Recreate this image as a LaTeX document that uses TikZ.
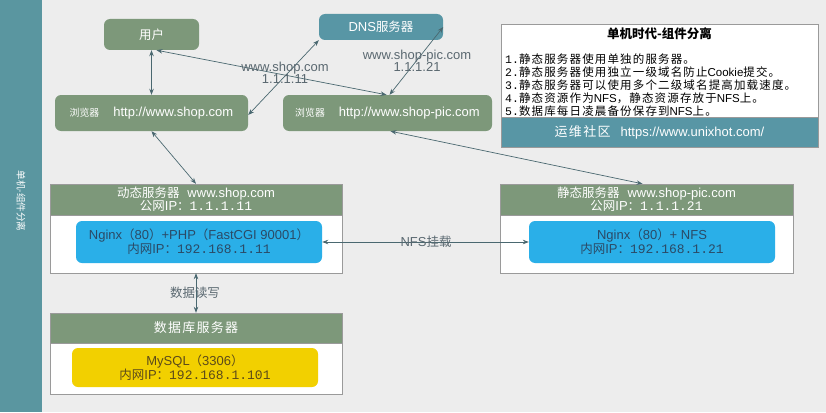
\documentclass[tikz,border=0pt]{standalone}
\usepackage{fontspec}
\setmainfont{Liberation Sans}
\setmonofont{Liberation Mono}
\newfontfamily\cjk[Scale=0.96]{Noto Sans CJK SC}
\newfontfamily\cjks[Scale=0.76]{Noto Sans CJK SC}
\newfontfamily\cjkl[LetterSpace=10]{Noto Sans CJK SC}
\usetikzlibrary{arrows.meta}
\definecolor{bg}{HTML}{EDEDED}
\definecolor{barteal}{HTML}{5A96A0}
\definecolor{gbox}{HTML}{7D987A}
\definecolor{tbox}{HTML}{5896A5}
\definecolor{bbox}{HTML}{2AAFE8}
\definecolor{ybox}{HTML}{F2D000}
\definecolor{arr}{HTML}{4A6870}
\definecolor{lbl}{HTML}{5A6870}
\definecolor{frame}{HTML}{9A9A9A}
\definecolor{bluetext}{HTML}{2B4A66}
\definecolor{yeltext}{HTML}{5B4A1A}
\tikzset{
  greenbox/.style={fill=gbox, rounded corners=6pt, text=white, font=\fontsize{13}{14}\selectfont, inner sep=0pt},
  header/.style={fill=gbox, draw=frame, text=white, align=center, font=\fontsize{13}{13}\selectfont, inner sep=0pt},
  body/.style={fill=white, draw=frame, inner sep=0pt},
  bluebox/.style={fill=bbox, rounded corners=6pt, text=bluetext, align=center, font=\fontsize{13}{14}\selectfont, inner sep=0pt},
  yelbox/.style={fill=ybox, rounded corners=6pt, text=yeltext, align=center, font=\fontsize{13}{13.5}\selectfont, inner sep=0pt},
  link/.style={draw=arr, line width=0.7pt, {Stealth[length=6pt,width=4.5pt]}-{Stealth[length=6pt,width=4.5pt]}},
  lab/.style={text=lbl, align=center, font=\fontsize{13}{12}\selectfont, inner sep=0pt}
}
\begin{document}
\begin{tikzpicture}[x=1pt,y=-1pt]
\fill[bg] (0,0) rectangle (826,412);
\useasboundingbox (0,0) rectangle (826,412);
\fill[barteal] (0,0) rectangle (42,412);
\node[rotate=-90, text=white, font=\cjk\fontsize{10}{10}\selectfont] (side) at (21,201) {单机-组件分离};

% top boxes
\node[greenbox, minimum width=95pt, minimum height=31pt] (user) at (151.5,34.5) {\cjk 用户};
\node[greenbox, fill=tbox, minimum width=124pt, minimum height=26pt] (dns) at (381,27) {DNS{\cjk 服务器}};
\node[greenbox, minimum width=193pt, minimum height=36pt] (b1) at (151.5,113) {{\cjks 浏览器}\hspace{14pt}http://www.shop.com};
\node[greenbox, minimum width=209pt, minimum height=36pt] (b2) at (387.5,113) {{\cjks 浏览器}\hspace{14pt}http://www.shop-pic.com};

% info box
\node[body, minimum width=317pt, minimum height=123pt] (info) at (659.5,85.5) {};
\node[fill=tbox, draw=frame, minimum width=317pt, minimum height=30pt, inner sep=0pt, text=white, font=\fontsize{13}{14}\selectfont] (band) at (659.5,132.5) {{\cjkl 运维社区}\hspace{10pt}https://www.unixhot.com/};
\node[font=\cjk\bfseries\fontsize{13}{14}\selectfont, inner sep=0pt] (title) at (659.5,34) {单机时代-组件分离};
\node[anchor=north west, align=left, inner sep=0pt, font=\fontsize{11.5}{13}\selectfont] (rules) at (505,54)
{{\ttfamily 1.}{\cjkl 静态服务器使用单独的服务器。}\\
{\ttfamily 2.}{\cjkl 静态服务器使用独立一级域名防止}Cookie{\cjkl 提交。}\\
{\ttfamily 3.}{\cjkl 静态服务器可以使用多个二级域名提高加载速度。}\\
{\ttfamily 4.}{\cjkl 静态资源作为}NFS{\cjkl ，静态资源存放于}NFS{\cjkl 上。}\\
{\ttfamily 5.}{\cjkl 数据库每日凌晨备份保存到}NFS{\cjkl 上。}};

% dynamic server
\node[body, minimum width=292pt, minimum height=89pt] (dyn) at (196,228.5) {};
\node[header, minimum width=292pt, minimum height=31pt] (dynh) at (196,199.5) {{\cjk 动态服务器}\hspace{8pt}www.shop.com\\{\cjk 公网}IP{\cjk ：}{\ttfamily 1.1.1.11}};
\node[bluebox, minimum width=246pt, minimum height=42pt] (nginx1) at (199,242) {Nginx{\cjk （}80{\cjk ）}+PHP{\cjk （}FastCGI 90001{\cjk ）}\\{\cjk 内网}IP{\cjk ：}{\ttfamily 192.168.1.11}};

% static server
\node[body, minimum width=293pt, minimum height=89pt] (sta) at (646.5,228.5) {};
\node[header, minimum width=293pt, minimum height=31pt] (stah) at (646.5,199.5) {{\cjk 静态服务器}\hspace{8pt}www.shop-pic.com\\{\cjk 公网}IP{\cjk ：}{\ttfamily 1.1.1.21}};
\node[bluebox, minimum width=246pt, minimum height=42pt] (nginx2) at (652,242) {Nginx{\cjk （}80{\cjk ）}+ NFS\\{\cjk 内网}IP{\cjk ：}{\ttfamily 192.168.1.21}};

% database server
\node[body, minimum width=292pt, minimum height=81pt] (db) at (196,353.5) {};
\node[header, minimum width=292pt, minimum height=30pt] (dbh) at (196,328) {\cjkl 数据库服务器};
\node[yelbox, minimum width=246pt, minimum height=39pt] (mysql) at (195,367.5) {MySQL{\cjk （}3306{\cjk ）}\\{\cjk 内网}IP{\cjk ：}{\ttfamily 192.168.1.101}};

% connectors
\draw[link] (user.south) -- (b1.north);
\draw[link] ([xshift=5pt]user.south) -- ([xshift=-1pt]b2.north);
\draw[link] ([yshift=-2pt]b1.east) -- (dns.south west);
\draw[link] (dns.east) -- ([xshift=2pt]b2.north);
\draw[link] (b1.south) -- (dynh.north);
\draw[link] ([xshift=3pt]b2.south) -- ([xshift=-4pt]stah.north);
\draw[link] (nginx1.east) -- (nginx2.west);
\draw[link] (dyn.south) -- (dbh.north);

\node[lab] (nfs) at (426,242) {NFS{\cjk 挂载}};
\node[lab] (rw) at (195,293) {\cjk 数据读写};
\node[lab] (l1) at (285,73) {www.shop.com\\1.1.1.11};
\node[lab] (l2) at (417,61) {www.shop-pic.com\\1.1.1.21};
\end{tikzpicture}
\end{document}
